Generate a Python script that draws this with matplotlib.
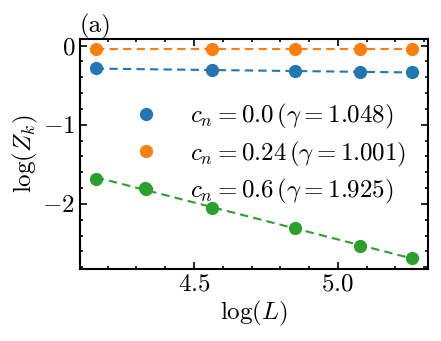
import numpy as np
import matplotlib
matplotlib.use("Agg")
import matplotlib.pyplot as plt
from matplotlib.ticker import MultipleLocator

plt.rcParams['font.family'] = 'serif'
plt.rcParams['font.serif'] = ['cmr10', 'DejaVu Serif']
plt.rcParams['mathtext.fontset'] = 'cm'
plt.rcParams['axes.formatter.use_mathtext'] = True
plt.rcParams['axes.unicode_minus'] = True

# data
logL_full = [4.159, 4.331, 4.564, 4.852, 5.075, 5.258]
logL_part = [4.159, 4.564, 4.852, 5.075, 5.258]
z_c00 = [-0.287, -0.312, -0.321, -0.333, -0.335]
z_c024 = [-0.048, -0.048, -0.048, -0.048, -0.048]
z_c06 = [-1.683, -1.796, -2.048, -2.308, -2.531, -2.686]
labels = [r'$c_n = 0.0\,(\gamma = 1.048)$',
          r'$c_n = 0.24\,(\gamma = 1.001)$',
          r'$c_n = 0.6\,(\gamma = 1.925)$']
colors = ['#1f77b4', '#ff7f0e', '#2ca02c']

FS = 18
fig = plt.figure(figsize=(4.41, 3.41), dpi=100)
ax = fig.add_axes([80/441, 72/341, 348/441, 230/341])

series = [(logL_part, z_c00), (logL_part, z_c024), (logL_full, z_c06)]
handles = []
for (xs, ys), lab, c in zip(series, labels, colors):
    xs = np.array(xs); ys = np.array(ys)
    p = np.polyfit(xs, ys, 1)
    ax.plot(xs, np.polyval(p, xs), '--', color=c, lw=1.5, dashes=(4, 2.5))
    h, = ax.plot(xs, ys, 'o', color=c, ms=8.5, label=lab)
    handles.append(h)

ax.legend(handles=handles, frameon=False, fontsize=FS, loc='upper left',
          bbox_to_anchor=(0.118, 0.725), handletextpad=0.75, labelspacing=0.33,
          borderaxespad=0, borderpad=0)

ax.set_xlabel(r'$\log(L)$', fontsize=FS, labelpad=2)
ax.set_ylabel(r'$\log(Z_k)$', fontsize=FS, labelpad=2)
ax.set_title('(a)', loc='left', fontsize=FS, pad=3)

ax.xaxis.set_major_locator(MultipleLocator(0.5))
ax.xaxis.set_minor_locator(MultipleLocator(0.1))
ax.yaxis.set_major_locator(MultipleLocator(1))
ax.yaxis.set_minor_locator(MultipleLocator(0.2))
ax.tick_params(which='both', direction='in', top=True, right=True, labelsize=FS, width=1.2)
ax.tick_params(which='major', length=5)
ax.tick_params(which='minor', length=2.5)
for s in ax.spines.values():
    s.set_linewidth(1.5)

fig.savefig('out.png', dpi=100)
